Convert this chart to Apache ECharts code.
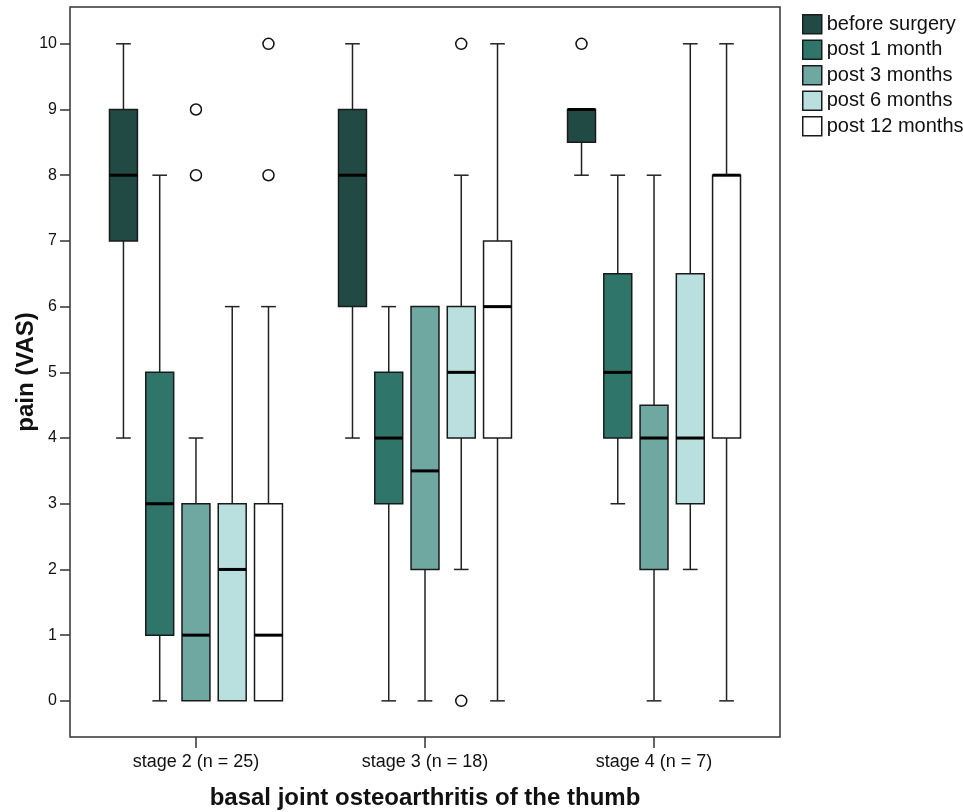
<!DOCTYPE html>
<html lang="en" style="height: 100%">
<head>
	<meta charset="utf-8">
	<title>pain (VAS) by stage</title>
</head>
<body style="height: 100%; margin: 0">
<div id="container" style="width: 963px; height: 812px"></div>

<script src="https://cdn.jsdelivr.net/npm/echarts@6/dist/echarts.min.js"></script>
<script type="text/javascript">
	var stages = ['stage 2 (n = 25)', 'stage 3 (n = 18)', 'stage 4 (n = 7)'];
	var groups = ['before surgery', 'post 1 month', 'post 3 months', 'post 6 months', 'post 12 months'];
	var colors = ['#224a45', '#2f756a', '#6ea8a0', '#b9dfdf', '#ffffff'];
	var yTicks = [0, 1, 2, 3, 4, 5, 6, 7, 8, 9, 10];

	// [min, Q1, median, Q3, max] for stage 2, stage 3, stage 4
	var beforeSurgery = [[4, 7, 8, 9, 10], [4, 6, 8, 9, 10], [8, 8.5, 9, 9, 9]];
	var post1Month = [[0, 1, 3, 5, 8], [0, 3, 4, 5, 6], [3, 4, 5, 6.5, 8]];
	var post3Months = [[0, 0, 1, 3, 4], [0, 2, 3.5, 6, 6], [0, 2, 4, 4.5, 8]];
	var post6Months = [[0, 0, 2, 3, 6], [2, 4, 5, 6, 8], [2, 3, 4, 6.5, 10]];
	var post12Months = [[0, 0, 1, 3, 6], [0, 4, 6, 7, 10], [0, 4, 8, 8, 10]];
	// outliers: [stage index, group index, value]
	var outliers = [[0, 2, 8], [0, 2, 9], [0, 4, 8], [0, 4, 10], [1, 3, 10], [1, 3, 0], [2, 0, 10]];

	var groupData = [beforeSurgery, post1Month, post3Months, post6Months, post12Months];

	// spacing of the boxes inside one stage, in x-axis units
	var SLOT = 0.1583;
	var BOX = 0.122;
	var CAP = 0.064;

	var dom = document.getElementById('container');
	var myChart = echarts.init(dom, null, {renderer: 'canvas'});

	function renderBox(params, api) {
		var k = params.seriesIndex;
		var x = api.value(0) + (k - 2) * SLOT;
		var lo = api.value(1), q1 = api.value(2), med = api.value(3), q3 = api.value(4), hi = api.value(5);
		var half = api.size([BOX, 0])[0] / 2;
		var capHalf = api.size([CAP, 0])[0] / 2;
		var pLo = api.coord([x, lo]);
		var pQ1 = api.coord([x, q1]);
		var pMed = api.coord([x, med]);
		var pQ3 = api.coord([x, q3]);
		var pHi = api.coord([x, hi]);
		var cx = pLo[0];
		var line = {stroke: '#222', lineWidth: 1.5};
		var children = [];
		if (lo < q1) {
			children.push({type: 'line', shape: {x1: cx, y1: pQ1[1], x2: cx, y2: pLo[1]}, style: line});
			children.push({type: 'line', shape: {x1: cx - capHalf, y1: pLo[1], x2: cx + capHalf, y2: pLo[1]}, style: line});
		}
		if (hi > q3) {
			children.push({type: 'line', shape: {x1: cx, y1: pQ3[1], x2: cx, y2: pHi[1]}, style: line});
			children.push({type: 'line', shape: {x1: cx - capHalf, y1: pHi[1], x2: cx + capHalf, y2: pHi[1]}, style: line});
		}
		children.push({
			type: 'rect',
			shape: {x: cx - half, y: pQ3[1], width: half * 2, height: pQ1[1] - pQ3[1]},
			style: {fill: api.visual('color'), stroke: '#1a1a1a', lineWidth: 1.5}
		});
		children.push({
			type: 'line',
			shape: {x1: cx - half, y1: pMed[1], x2: cx + half, y2: pMed[1]},
			style: {stroke: '#000', lineWidth: 3}
		});
		return {type: 'group', children: children};
	}

	var series = groups.map(function (name, k) {
		return {
			type: 'custom',
			name: name,
			renderItem: renderBox,
			itemStyle: {color: colors[k], borderColor: '#1a1a1a', borderWidth: 1.5},
			encode: {x: 0, y: [1, 2, 3, 4, 5]},
			data: groupData[k].map(function (d, i) { return [i].concat(d); })
		};
	});

	series.push({
		type: 'scatter',
		name: 'outliers',
		symbol: 'circle',
		symbolSize: 11,
		itemStyle: {color: '#fff', borderColor: '#111', borderWidth: 1.5, opacity: 1},
		data: outliers.map(function (o) { return [o[0] + (o[1] - 2) * SLOT, o[2]]; }),
		z: 5
	});

	var option = {
		animation: false,
		backgroundColor: '#fff',
		textStyle: {fontFamily: 'Liberation Sans, Arial, sans-serif', color: '#111'},
		legend: {
			orient: 'vertical',
			left: 802,
			top: 14,
			padding: 0,
			itemGap: 5,
			itemWidth: 19,
			itemHeight: 19,
			icon: 'rect',
			itemStyle: {borderColor: '#1a1a1a', borderWidth: 1.5},
			textStyle: {fontSize: 20, color: '#111'},
			data: groups.map(function (g, i) {
				return {name: g, itemStyle: {color: colors[i]}};
			})
		},
		grid: {
			left: 70,
			top: 7,
			width: 710,
			height: 730,
			outerBoundsMode: 'none',
			containLabel: false,
			show: true,
			borderColor: '#333',
			borderWidth: 1.5,
			backgroundColor: 'transparent'
		},
		xAxis: {
			type: 'value',
			min: -0.55,
			max: 2.55,
			name: 'basal joint osteoarthritis of the thumb',
			nameLocation: 'middle',
			nameGap: 49,
			nameMoveOverlap: false,
			nameTextStyle: {fontSize: 24, fontWeight: 'bold', color: '#111'},
			axisLine: {show: false, onZero: false},
			splitLine: {show: false},
			axisTick: {length: 11, customValues: [0, 1, 2], lineStyle: {color: '#333', width: 1.5}},
			axisLabel: {
				customValues: [0, 1, 2],
				margin: 16,
				fontSize: 18,
				color: '#111',
				formatter: function (v) { return stages[Math.round(v)]; }
			}
		},
		yAxis: {
			type: 'value',
			min: -0.55,
			max: 10.56,
			name: 'pain (VAS)',
			nameLocation: 'middle',
			nameGap: 32,
			nameMoveOverlap: false,
			nameTextStyle: {fontSize: 24, fontWeight: 'bold', color: '#111'},
			axisLine: {show: false, onZero: false},
			splitLine: {show: false},
			axisTick: {length: 10, customValues: yTicks, lineStyle: {color: '#333', width: 1.5}},
			axisLabel: {customValues: yTicks, margin: 13, fontSize: 16, color: '#111'}
		},
		series: series
	};

	if (option && typeof option === 'object') {
		myChart.setOption(option);
	}
	window.addEventListener('resize', myChart.resize);
</script>
</body>
</html>
